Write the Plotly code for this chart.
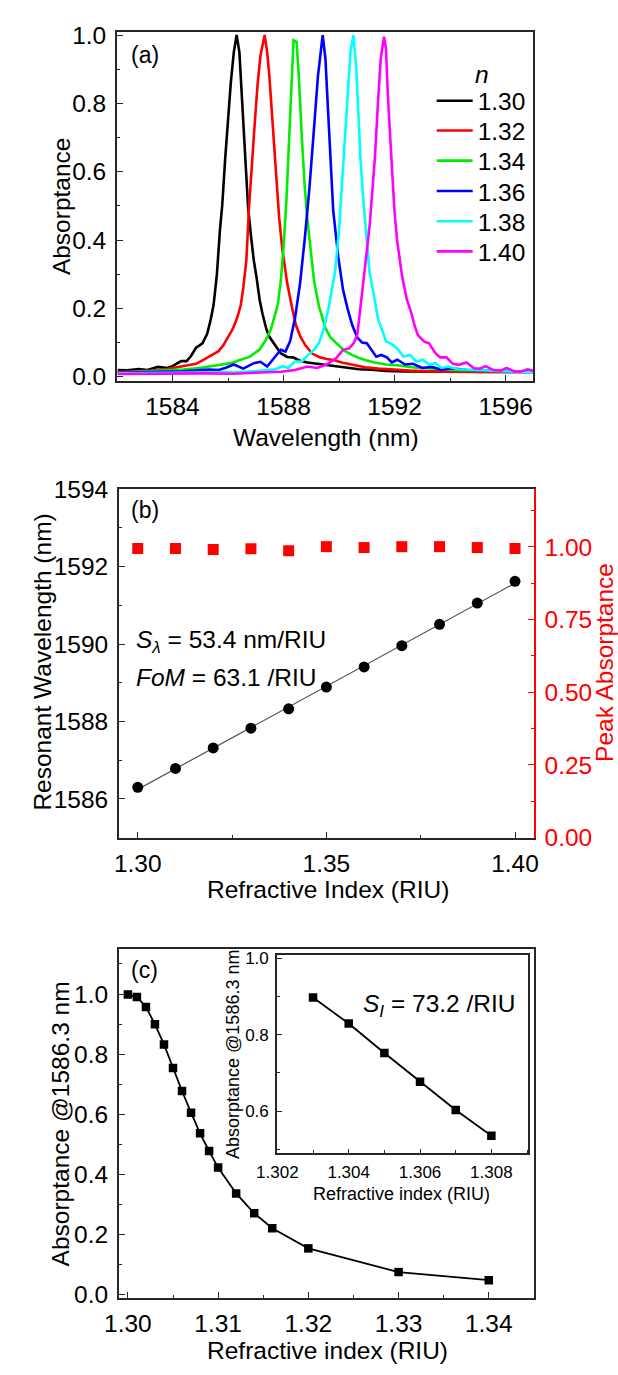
import numpy as np
import plotly.graph_objects as go

# ---------------- data: panel (a) absorptance spectra ----------------
wl_130 = [1582.03,1582.38,1582.78,1583.10,1583.47,1583.82,1583.97,1584.16,1584.31,1584.51,1584.66,1584.85,1585.08,1585.25,1585.37,1585.48,1585.60,1585.71,1585.79,1585.90,1586.00,1586.10,1586.21,1586.31,1586.41,1586.52,1586.62,1586.72,1586.83,1586.93,1587.03,1587.14,1587.24,1587.38,1587.49,1587.62,1587.76,1587.90,1588.13,1588.34,1588.59,1588.86,1589.21,1589.55,1589.90,1590.24,1590.72,1591.17,1591.69,1592.38,1593.07,1594.10,1595.14,1596.17,1597.00]
abs_130 = [0.020,0.019,0.023,0.020,0.029,0.026,0.030,0.040,0.046,0.046,0.060,0.085,0.098,0.126,0.165,0.210,0.300,0.430,0.500,0.640,0.760,0.860,0.950,1.000,0.950,0.800,0.630,0.500,0.410,0.340,0.290,0.225,0.185,0.140,0.117,0.100,0.085,0.069,0.058,0.057,0.047,0.042,0.038,0.035,0.030,0.027,0.022,0.021,0.017,0.016,0.015,0.015,0.014,0.014,0.014]

wl_132 = [1582.03,1583.24,1583.82,1584.28,1584.62,1584.85,1585.08,1585.31,1585.48,1585.66,1585.83,1586.00,1586.17,1586.34,1586.46,1586.55,1586.66,1586.76,1586.86,1586.97,1587.07,1587.17,1587.32,1587.41,1587.49,1587.61,1587.72,1587.84,1587.96,1588.13,1588.30,1588.45,1588.62,1588.79,1589.03,1589.28,1589.55,1589.79,1590.14,1590.48,1590.93,1591.41,1591.86,1592.55,1593.24,1594.45,1595.83,1597.00]
abs_132 = [0.014,0.018,0.023,0.029,0.034,0.038,0.048,0.058,0.066,0.075,0.092,0.115,0.140,0.175,0.210,0.260,0.340,0.500,0.630,0.750,0.860,0.940,1.000,0.950,0.880,0.735,0.590,0.467,0.371,0.275,0.205,0.150,0.115,0.092,0.068,0.058,0.052,0.049,0.041,0.036,0.028,0.024,0.021,0.018,0.016,0.015,0.014,0.014]

wl_134 = [1582.03,1583.24,1584.38,1584.97,1585.55,1586.10,1586.45,1586.79,1587.14,1587.38,1587.55,1587.69,1587.79,1587.90,1588.00,1588.10,1588.21,1588.28,1588.36,1588.47,1588.55,1588.66,1588.76,1588.86,1588.97,1589.10,1589.28,1589.51,1589.69,1589.90,1590.20,1590.45,1590.72,1591.00,1591.28,1591.69,1592.10,1592.61,1593.07,1593.52,1594.17,1595.14,1596.17,1597.00]
abs_134 = [0.012,0.016,0.021,0.026,0.033,0.040,0.050,0.059,0.080,0.110,0.140,0.180,0.210,0.280,0.380,0.510,0.700,0.850,0.985,0.980,0.880,0.700,0.560,0.460,0.370,0.280,0.205,0.143,0.115,0.100,0.076,0.065,0.055,0.048,0.042,0.036,0.034,0.028,0.026,0.022,0.020,0.018,0.016,0.015]

wl_136 = [1582.03,1583.24,1584.38,1585.31,1585.66,1585.90,1586.21,1586.55,1586.93,1587.17,1587.41,1587.66,1587.90,1588.07,1588.24,1588.41,1588.59,1588.76,1588.93,1589.10,1589.24,1589.41,1589.51,1589.59,1589.68,1589.79,1589.97,1590.14,1590.31,1590.48,1590.66,1590.83,1591.00,1591.17,1591.34,1591.52,1591.72,1591.90,1592.10,1592.38,1592.66,1593.00,1593.34,1593.69,1594.03,1594.62,1595.48,1596.34,1597.00]
abs_136 = [0.012,0.013,0.016,0.021,0.020,0.026,0.036,0.024,0.040,0.044,0.030,0.055,0.079,0.074,0.105,0.170,0.270,0.400,0.550,0.730,0.880,1.000,0.930,0.800,0.640,0.486,0.352,0.256,0.198,0.150,0.115,0.100,0.098,0.080,0.059,0.064,0.057,0.042,0.050,0.036,0.038,0.026,0.029,0.021,0.025,0.020,0.018,0.016,0.015]

wl_138 = [1582.03,1583.76,1585.48,1586.52,1587.21,1587.72,1587.96,1588.17,1588.41,1588.66,1588.86,1589.10,1589.28,1589.45,1589.62,1589.76,1589.86,1590.00,1590.10,1590.21,1590.31,1590.41,1590.52,1590.62,1590.69,1590.77,1590.86,1590.94,1591.10,1591.24,1591.40,1591.58,1591.69,1591.86,1592.09,1592.32,1592.55,1592.78,1593.01,1593.24,1593.47,1593.69,1593.93,1594.28,1594.79,1595.48,1596.17,1597.00]
abs_138 = [0.010,0.011,0.012,0.014,0.018,0.022,0.031,0.026,0.045,0.045,0.062,0.079,0.100,0.140,0.200,0.270,0.310,0.430,0.550,0.690,0.830,0.950,1.000,0.900,0.780,0.640,0.530,0.447,0.304,0.245,0.170,0.130,0.103,0.098,0.083,0.059,0.064,0.045,0.050,0.036,0.040,0.026,0.030,0.022,0.020,0.017,0.016,0.014]

wl_140 = [1582.03,1583.07,1584.10,1585.14,1586.17,1587.21,1587.90,1588.41,1588.86,1589.21,1589.55,1589.90,1590.14,1590.37,1590.54,1590.66,1590.77,1590.86,1590.94,1591.03,1591.11,1591.21,1591.29,1591.40,1591.50,1591.62,1591.69,1591.76,1591.83,1591.92,1592.00,1592.09,1592.27,1592.44,1592.61,1592.72,1592.84,1593.07,1593.24,1593.47,1593.64,1593.87,1594.10,1594.31,1594.59,1594.86,1595.07,1595.28,1595.55,1595.83,1596.03,1596.31,1596.52,1596.79,1597.00]
abs_140 = [0.008,0.009,0.008,0.010,0.009,0.012,0.015,0.020,0.030,0.026,0.036,0.055,0.079,0.083,0.100,0.125,0.200,0.260,0.310,0.390,0.450,0.560,0.640,0.800,0.930,0.995,0.960,0.820,0.700,0.590,0.480,0.400,0.294,0.227,0.185,0.150,0.122,0.103,0.098,0.069,0.057,0.057,0.038,0.035,0.042,0.025,0.024,0.031,0.020,0.018,0.026,0.016,0.015,0.022,0.018]

spec_labels = ["1.30", "1.32", "1.34", "1.36", "1.38", "1.40"]
spec_colors = ["#000000", "#ff0000", "#00ee00", "#0000ff", "#00ffff", "#ff00ff"]

# ---------------- data: panel (b) ----------------
n_b = [1.30, 1.31, 1.32, 1.33, 1.34, 1.35, 1.36, 1.37, 1.38, 1.39, 1.40]
lam_res_b = [1586.30, 1586.79, 1587.32, 1587.83, 1588.33, 1588.89, 1589.41, 1589.96, 1590.51, 1591.06, 1591.62]
peak_abs_b = [0.995, 0.995, 0.991, 0.994, 0.987, 1.001, 0.998, 1.001, 1.001, 0.998, 0.995]

# ---------------- data: panel (c) ----------------
n_c = [1.300, 1.301, 1.302, 1.303, 1.304, 1.305, 1.306, 1.307, 1.308, 1.309, 1.310, 1.312, 1.314, 1.316, 1.320, 1.330, 1.340]
abs_c = [0.998, 0.990, 0.957, 0.899, 0.832, 0.754, 0.677, 0.605, 0.536, 0.477, 0.422, 0.336, 0.270, 0.220, 0.153, 0.074, 0.047]
n_inset = [1.303, 1.304, 1.305, 1.306, 1.307, 1.308]
abs_inset = [0.897, 0.829, 0.752, 0.677, 0.603, 0.536]

# ---------------- layout helpers ----------------
W, H = 618, 1375
FONT = "Liberation Sans, Arial, sans-serif"
AXC = "#262626"
FS = 24.5
RED = "#ff0000"


def px(x):
    return x / W


def py(y):
    return 1 - y / H


def axis(dtick, minor_dtick, tick0=None, size=FS, standoff=3, **kw):
    d = dict(showline=True, linecolor=AXC, linewidth=1.6, mirror=True,
             ticks="inside", ticklen=6, tickwidth=1.4, tickcolor=AXC,
             showgrid=False, zeroline=False, dtick=dtick,
             tickfont=dict(family=FONT, size=size, color="black"),
             minor=dict(ticks="inside", ticklen=3.5, tickwidth=1.2, tickcolor=AXC,
                        showgrid=False, dtick=minor_dtick),
             ticklabelstandoff=standoff)
    if tick0 is not None:
        d["tick0"] = tick0
        d["minor"]["tick0"] = tick0
    d.update(kw)
    return d


fig = go.Figure()

# panel (a): one legend box per curve so the rows keep the original spacing
legend_ids = ["legend", "legend2", "legend3", "legend4", "legend5", "legend6"]
legend_rows_y = [89, 119.3, 150, 181, 211.8, 242.5]
spec_wl = [wl_130, wl_132, wl_134, wl_136, wl_138, wl_140]
spec_abs = [abs_130, abs_132, abs_134, abs_136, abs_138, abs_140]
for lab, col, xs, ys, lg in zip(spec_labels, spec_colors, spec_wl, spec_abs, legend_ids):
    fig.add_trace(go.Scatter(x=xs, y=ys, mode="lines", name=lab, legend=lg,
                             line=dict(color=col, width=2.6), xaxis="x", yaxis="y"))

# panel (b)
slope, icpt = np.polyfit(n_b, lam_res_b, 1)
fit_x = [n_b[0], n_b[-1]]
fig.add_trace(go.Scatter(x=fit_x, y=[slope * v + icpt for v in fit_x], mode="lines",
                         line=dict(color="#555555", width=1.2), showlegend=False,
                         xaxis="x2", yaxis="y2"))
fig.add_trace(go.Scatter(x=n_b, y=lam_res_b, mode="markers",
                         marker=dict(symbol="circle", size=11, color="black"),
                         showlegend=False, xaxis="x2", yaxis="y2"))
fig.add_trace(go.Scatter(x=n_b, y=peak_abs_b, mode="markers",
                         marker=dict(symbol="square", size=11, color=RED),
                         showlegend=False, xaxis="x2", yaxis="y3"))

# panel (c) and inset
fig.add_trace(go.Scatter(x=n_c, y=abs_c, mode="lines+markers",
                         line=dict(color="black", width=1.8),
                         marker=dict(symbol="square", size=8.5, color="black"),
                         showlegend=False, xaxis="x3", yaxis="y4"))
fig.add_trace(go.Scatter(x=n_inset, y=abs_inset, mode="lines+markers",
                         line=dict(color="black", width=1.8),
                         marker=dict(symbol="square", size=8.5, color="black"),
                         showlegend=False, xaxis="x4", yaxis="y5"))

layout = dict(
    width=W, height=H, margin=dict(l=0, r=0, t=0, b=0),
    paper_bgcolor="white", plot_bgcolor="white",
    font=dict(family=FONT, size=FS, color="black"),
    xaxis=axis(4, 2, tick0=1584, domain=[px(100), px(534)], range=[1582, 1597], anchor="y"),
    yaxis=axis(0.2, 0.1, tick0=0, domain=[py(375), py(19)], range=[-0.012, 1.01],
               anchor="x", tickformat=".1f", standoff=4),
    xaxis2=axis(0.05, 0.025, tick0=1.30, domain=[px(102), px(534.5)], range=[1.295, 1.405],
                anchor="y2", tickformat=".2f"),
    yaxis2=axis(2, 1, tick0=1586, domain=[py(841), py(485)], range=[1584.99, 1594.01],
                anchor="x2", mirror=False, standoff=4),
    yaxis3=axis(0.25, 0.125, tick0=0, range=[-0.0015, 1.2], overlaying="y2", side="right",
                anchor="x2", mirror=False, tickformat=".2f", linecolor=RED, tickcolor=RED,
                tickfont=dict(family=FONT, size=FS, color=RED), standoff=4,
                minor=dict(ticks="inside", ticklen=3.5, tickwidth=1.2, tickcolor=RED,
                           showgrid=False, dtick=0.125, tick0=0)),
    xaxis3=axis(0.01, 0.005, tick0=1.30, domain=[px(102), px(534.5)], range=[1.299, 1.345],
                anchor="y4", tickformat=".2f"),
    yaxis4=axis(0.2, 0.1, tick0=0, domain=[py(1310), py(954)], range=[-0.013, 1.15],
                anchor="x3", tickformat=".1f", standoff=4),
    xaxis4=axis(0.002, 0.001, tick0=1.302, size=17, domain=[px(266.8), px(528.5)],
                range=[1.30199, 1.30903], anchor="y5", tickformat=".3f", ticklen=5,
                standoff=2),
    yaxis5=axis(0.2, 0.1, tick0=0.6, size=17, domain=[py(1162.3), py(960)],
                range=[0.49, 1.0085], anchor="x4", tickformat=".1f", ticklen=5,
                standoff=3),
)
for lg, row_y in zip(legend_ids, legend_rows_y):
    layout[lg] = dict(x=px(428), y=py(row_y - 22.4), xanchor="left", yanchor="top",
                      bgcolor="rgba(0,0,0,0)", borderwidth=0, itemwidth=36,
                      font=dict(family=FONT, size=FS, color="black"))
fig.update_layout(**layout)


def ann(text, x, y, size=FS, color="black", angle=0, xanchor="center"):
    fig.add_annotation(text=text, x=px(x), y=py(y), xref="paper", yref="paper",
                       showarrow=False, textangle=angle, xanchor=xanchor, yanchor="middle",
                       font=dict(family=FONT, size=size, color=color))


# panel labels
ann("(a)", 113, 43, size=23, xanchor="left")
ann("(b)", 113, 507, size=23, xanchor="left")
ann("(c)", 113, 975, size=23, xanchor="left")
# legend heading
ann("<i>n</i>", 480, 63)
# axis titles
ann("Absorptance", 41.5, 197, angle=-90)
ann("Wavelength (nm)", 318, 433)
ann("Resonant Wavelength (nm)", 22, 662, angle=-90)
ann("Refractive Index (RIU)", 320, 893)
ann("Peak Absorptance", 608, 662, color=RED, angle=-90)
ann("Absorptance @1586.3 nm", 41.5, 1132, angle=-90)
ann("Refractive index (RIU)", 319, 1363)
ann("Absorptance @1586.3 nm", 221, 1062, size=18, angle=-90)
ann("Refractive index (RIU)", 397, 1204, size=18)
# in-plot texts
ann("<i>S</i><sub><i>λ</i></sub> = 53.4 nm/RIU", 118, 641, xanchor="left")
ann("<i>FoM</i> = 63.1 /RIU", 118, 677, xanchor="left")
ann("<i>S</i><sub><i>I</i></sub> = 73.2 /RIU", 354, 1012, xanchor="left")

fig.write_html("out.html")
